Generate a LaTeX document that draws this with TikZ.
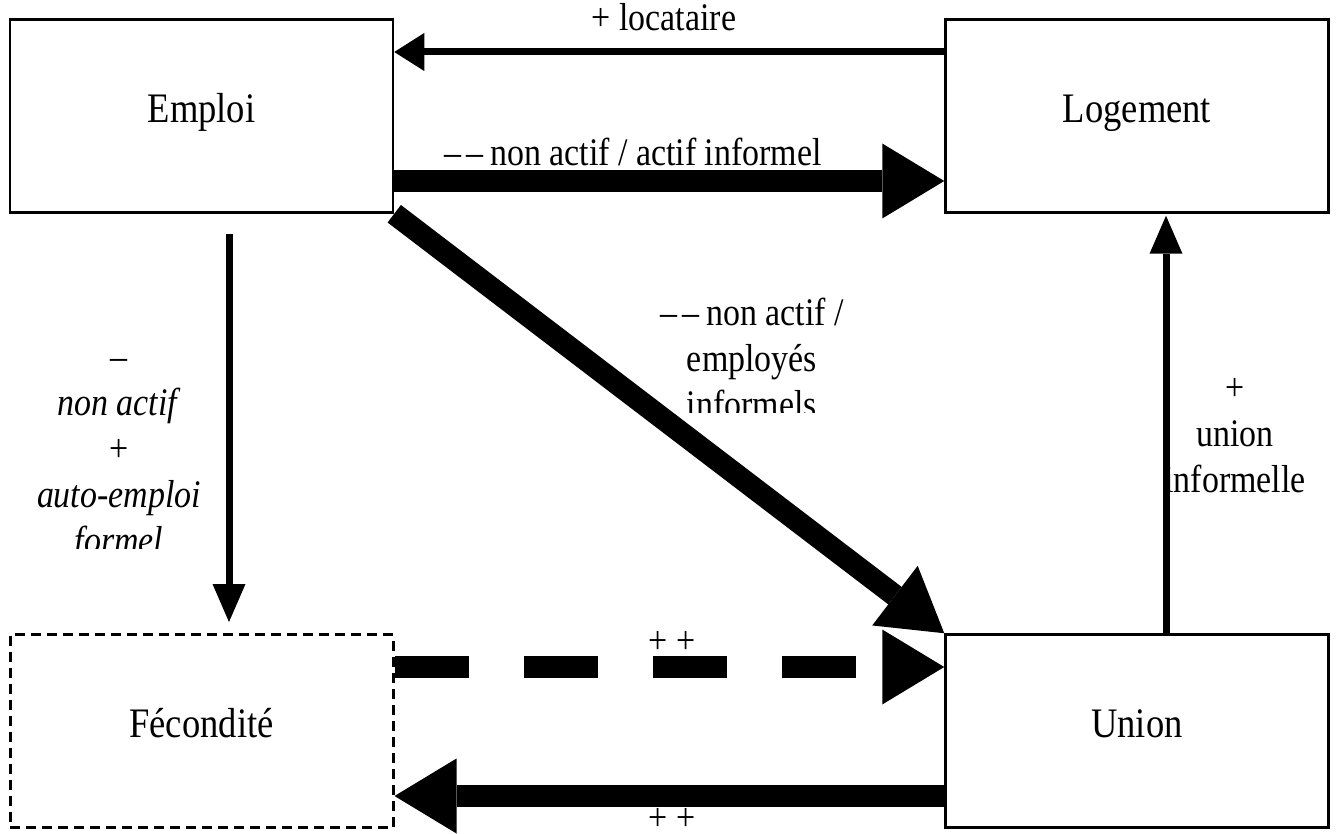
\documentclass[tikz,border=0pt]{standalone}
\usepackage{fontspec}
\setmainfont{Liberation Serif}[FakeStretch=0.87]
\usetikzlibrary{arrows.meta,calc}
\begin{document}
\begin{tikzpicture}[x=1pt,y=-1pt,
  box/.style={draw, line width=2.5pt, minimum width=383pt, minimum height=193pt, inner sep=0pt,
    font=\fontsize{42}{48}\selectfont, text height=28pt, text depth=15pt},
  dbox/.style={box, line width=3pt, dash pattern=on 10pt off 6pt},
  lbl/.style={font=\fontsize{39}{46}\selectfont, inner sep=0pt, align=center},
  thickarrow/.style={line width=22pt, -{Triangle[length=62pt,width=75pt,line width=0pt]}},
  thinarrowh/.style={line width=7pt, -{Triangle[length=30pt,width=38pt,line width=0pt]}},
  thinarrowv/.style={line width=7pt, -{Triangle[length=38pt,width=33pt,line width=0pt]}}
]
\fill[white] (0,0) rectangle (1339,834);
\useasboundingbox (0,0) rectangle (1339,834);

\node[box] (emploi) at (201.5,116) {Emploi};
\node[box] (logement) at (1137,116) {Logement};
\node[dbox] (fec) at (201.5,731) {Fécondité};
\node[box] (union) at (1137,731) {Union};

% labels (anchor=base is the baseline of the last line)
\node[lbl, anchor=base] (lloc) at (664,31) {+ locataire};
\node[lbl, anchor=base] (lact) at (633,166) {–\kern5pt–\kern7pt{}non actif / actif informel};
\begin{scope}
  \clip (560,280) rectangle (950,412);
  \node[lbl, anchor=base] (lemp) at (752,417) {–\kern5pt–\kern7pt{}non actif /\\employés\\informels};
\end{scope}
\begin{scope}
  \clip (0,300) rectangle (215,548);
  \node[lbl, anchor=base] (lfec) at (119,553) {–\\\textit{non actif}\\+\\\textit{auto-emploi}\\\textit{formel}};
\end{scope}
\node[lbl, anchor=base] (luni) at (1235,492) {+\\union\\informelle};
\node[lbl, anchor=base] (lpp1) at (672,653) {+ +};
\node[lbl, anchor=base] (lpp2) at (672,830) {+ +};

% connectors
\draw[thinarrowh] ([yshift=64pt]logement.west) -- ([yshift=64pt]emploi.east);
\draw[thickarrow] ([yshift=-65pt]emploi.east) -- ([yshift=-65pt]logement.west);
\draw[thickarrow] (emploi.south east) -- (union.north west);
\draw[thinarrowv, shorten <=20pt, shorten >=11pt] ([xshift=27.5pt]emploi.south) -- ([xshift=27.5pt]fec.north);
\draw[thinarrowv, shorten >=2pt] ([xshift=29pt]union.north) -- ([xshift=29pt]logement.south);
\draw[thickarrow, dash pattern=on 74pt off 55pt] ([yshift=64pt]fec.east) -- ([yshift=64pt]union.west);
\draw[thickarrow] ([yshift=-65pt]union.west) -- ([yshift=-65pt]fec.east);
\end{tikzpicture}
\end{document}
